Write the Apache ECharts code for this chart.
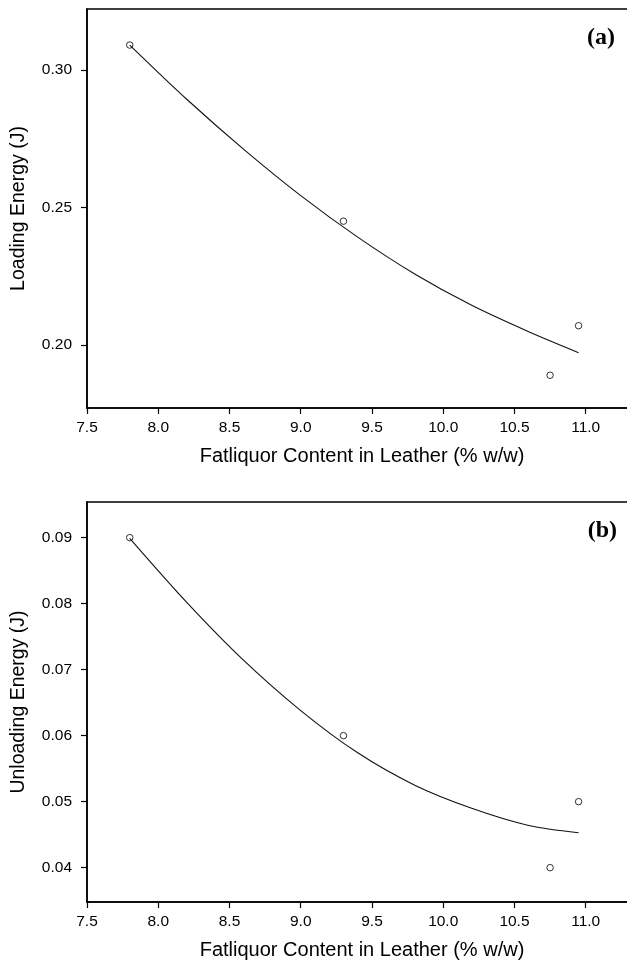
<!DOCTYPE html>
<html>
<head>
<meta charset="utf-8">
<style>
  html, body { margin: 0; padding: 0; background: #fff; }
  #main { width: 627px; height: 962px; }
</style>
<script src="https://cdn.jsdelivr.net/npm/echarts@6/dist/echarts.min.js"></script>
</head>
<body>
<div id="main"></div>
<script type="text/javascript">
    // measured values
    var fatliquor = [7.8, 9.3, 10.75, 10.95];
    var loadingEnergy = [0.309, 0.245, 0.189, 0.207];
    var unloadingEnergy = [0.090, 0.060, 0.040, 0.050];

    // fitted curves
    var fitX = [7.8, 8.2, 8.6, 9.0, 9.4, 9.8, 10.2, 10.6, 10.95];
    var loadingFit = [0.309, 0.2893, 0.2711, 0.2543, 0.2392, 0.2258, 0.2144, 0.2048, 0.1972];
    var unloadingFit = [0.0899, 0.0802, 0.0714, 0.0638, 0.0574, 0.0525, 0.0490, 0.0464, 0.0453];

    var xTicks = [7.5, 8.0, 8.5, 9.0, 9.5, 10.0, 10.5, 11.0];
    var loadingTicks = [0.20, 0.25, 0.30];
    var unloadingTicks = [0.04, 0.05, 0.06, 0.07, 0.08, 0.09];

    function pairs(xs, ys) {
        return xs.map(function (x, i) { return [x, ys[i]]; });
    }

    var font = 'Liberation Sans, Arial, Helvetica, sans-serif';
    var axisLine = { show: true, onZero: false, lineStyle: { color: '#000', width: 1.5 } };

    function xAxis(grid) {
        return {
            type: 'value', gridIndex: grid, min: 7.5, max: 11.36,
            name: 'Fatliquor Content in Leather (% w/w)',
            nameLocation: 'middle', nameGap: 38,
            nameTextStyle: { fontFamily: font, fontSize: 20, color: '#000' },
            axisLine: axisLine,
            axisTick: { show: true, length: 6, customValues: xTicks, lineStyle: { color: '#000', width: 1.2 } },
            axisLabel: {
                customValues: xTicks, margin: 12, fontFamily: font, fontSize: 15.5, color: '#000',
                formatter: function (v) { return v.toFixed(1); }
            },
            splitLine: { show: false }
        };
    }

    function yAxis(grid, name, min, max, ticks) {
        return {
            type: 'value', gridIndex: grid, min: min, max: max,
            name: name, nameLocation: 'middle', nameGap: 58,
            nameTextStyle: { fontFamily: font, fontSize: 19.5, color: '#000' },
            axisLine: axisLine,
            axisTick: { show: true, length: 6, customValues: ticks, lineStyle: { color: '#000', width: 1.2 } },
            axisLabel: {
                customValues: ticks, margin: 15, fontFamily: font, fontSize: 15.5, color: '#000',
                formatter: function (v) { return v.toFixed(2); }
            },
            splitLine: { show: false }
        };
    }

    var myChart = echarts.init(document.getElementById('main'));

    var pointStyle = { color: '#fff', borderColor: '#000', borderWidth: 1 };
    var curveStyle = { color: '#111', width: 1.1 };

    myChart.setOption({
        animation: false,
        backgroundColor: '#fff',
        title: [
            { text: '(a)', right: 12, top: 26, padding: 0,
              textStyle: { fontFamily: 'Liberation Serif, Times New Roman, serif', fontWeight: 'bold', fontSize: 24, color: '#000' } },
            { text: '(b)', right: 10, top: 519, padding: 0,
              textStyle: { fontFamily: 'Liberation Serif, Times New Roman, serif', fontWeight: 'bold', fontSize: 24, color: '#000' } }
        ],
        grid: [
            { left: 87, width: 550, top: 9, height: 399, outerBoundsMode: 'none',
              show: true, borderColor: '#000', borderWidth: 1.5 },
            { left: 87, width: 550, top: 502, height: 400, outerBoundsMode: 'none',
              show: true, borderColor: '#000', borderWidth: 1.5 }
        ],
        xAxis: [xAxis(0), xAxis(1)],
        yAxis: [
            yAxis(0, 'Loading Energy (J)', 0.1771, 0.3221, loadingTicks),
            yAxis(1, 'Unloading Energy (J)', 0.0348, 0.0954, unloadingTicks)
        ],
        series: [
            { type: 'line', xAxisIndex: 0, yAxisIndex: 0, data: pairs(fitX, loadingFit),
              smooth: 0.3, showSymbol: false, lineStyle: curveStyle },
            { type: 'scatter', xAxisIndex: 0, yAxisIndex: 0, data: pairs(fatliquor, loadingEnergy),
              symbol: 'circle', symbolSize: 6.5, itemStyle: pointStyle },
            { type: 'line', xAxisIndex: 1, yAxisIndex: 1, data: pairs(fitX, unloadingFit),
              smooth: 0.3, showSymbol: false, lineStyle: curveStyle },
            { type: 'scatter', xAxisIndex: 1, yAxisIndex: 1, data: pairs(fatliquor, unloadingEnergy),
              symbol: 'circle', symbolSize: 6.5, itemStyle: pointStyle }
        ]
    });
</script>
</body>
</html>
